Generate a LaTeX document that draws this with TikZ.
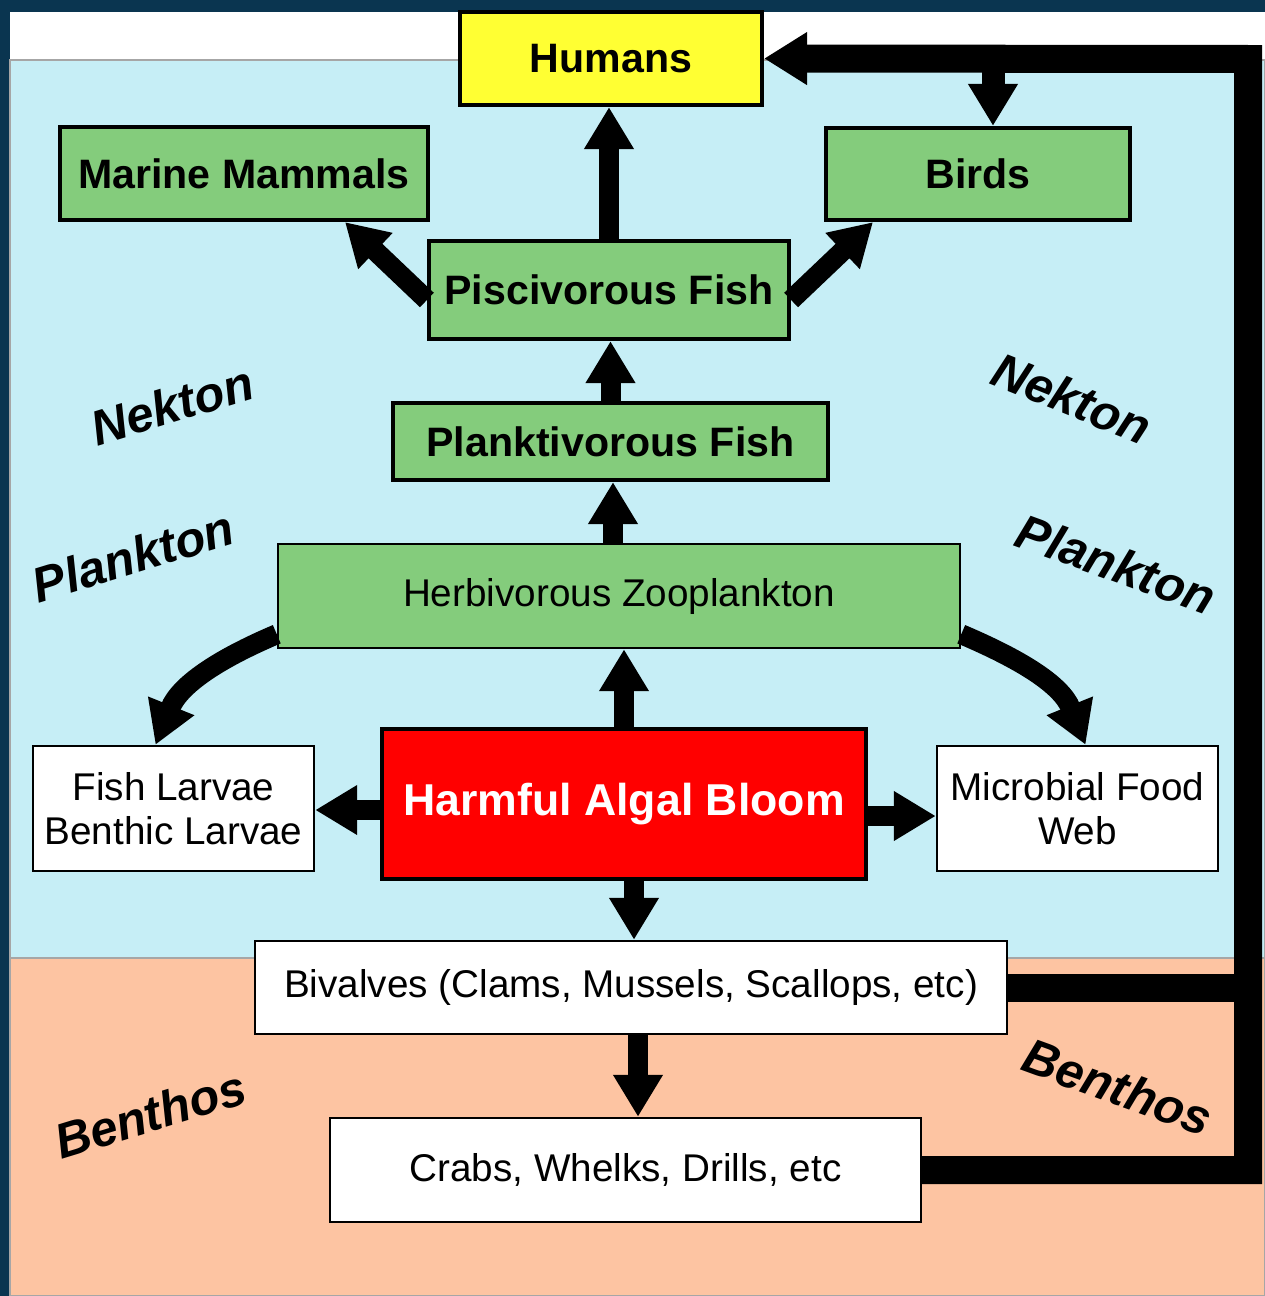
\documentclass[tikz,border=0pt]{standalone}
\usepackage{fontspec}
\setmainfont{Liberation Sans}
\usepackage{xcolor}
\usepackage{tikz}
\usetikzlibrary{positioning, calc, arrows.meta}

\definecolor{navy}{HTML}{0A3550}
\definecolor{seawater}{HTML}{C6EEF6}
\definecolor{seabed}{HTML}{FDC4A2}
\definecolor{boxgreen}{HTML}{84CC7C}
\definecolor{humanyellow}{HTML}{FFFF33}

\begin{document}
\begin{tikzpicture}[
    box/.style={draw, line width=1.2pt, align=center, inner sep=2pt,
                font=\fontsize{11.7}{14}\selectfont\bfseries},
    greenbox/.style={box, fill=boxgreen},
    plainbox/.style={draw, line width=0.7pt, fill=white, align=center,
                     inner sep=2pt, font=\fontsize{11}{12.6}\selectfont},
    arw/.style={line width=0.2cm, -{Triangle[width=0.47cm, length=0.42cm]}},
    loopline/.style={line width=0.28cm},
    zone/.style={font=\fontsize{14}{16}\selectfont\bfseries\itshape},
]
\useasboundingbox (0, 0) rectangle (12.65, -12.96);

% --- Background ---
\fill[navy] (0, 0) rectangle (12.65, -12.96);
\fill[white] (0.10, -0.12) rectangle (12.65, -0.60);
\filldraw[fill=seawater, draw=gray!70, line width=0.4pt]
    (0.10, -0.60) rectangle (12.65, -9.58);
\filldraw[fill=seabed, draw=gray!70, line width=0.4pt]
    (0.10, -9.58) rectangle (12.65, -12.96);

% --- Zone labels ---
\node[zone, rotate=17] (nekL) at (1.72, -4.05) {Nekton};
\node[zone, rotate=17] (plaL) at (1.33, -5.56) {Plankton};
\node[zone, rotate=17] (benL) at (1.50, -11.14) {Benthos};
\node[zone, rotate=-22] (nekR) at (10.72, -3.98) {Nekton};
\node[zone, rotate=-20] (plaR) at (11.16, -5.64) {Plankton};
\node[zone, rotate=-20] (benR) at (11.18, -10.87) {Benthos};

% --- Food web boxes ---
\node[box, fill=humanyellow, minimum width=3.02cm, minimum height=0.93cm]
    (humans) at (6.11, -0.585) {Humans};
\node[greenbox, minimum width=3.68cm, minimum height=0.93cm]
    (mammals) at (2.44, -1.735) {Marine Mammals};
\node[greenbox, minimum width=3.04cm, minimum height=0.92cm]
    (birds) at (9.78, -1.74) {Birds};
\node[greenbox, minimum width=3.60cm, minimum height=0.98cm]
    (pisc) at (6.09, -2.90) {Piscivorous Fish};
\node[greenbox, minimum width=4.35cm, minimum height=0.77cm]
    (plank) at (6.105, -4.415) {Planktivorous Fish};
\node[plainbox, fill=boxgreen, minimum width=6.82cm, minimum height=1.04cm]
    (herb) at (6.19, -5.96) {Herbivorous Zooplankton};
\node[plainbox, minimum width=2.81cm, minimum height=1.25cm]
    (larvae) at (1.735, -8.085) {Fish Larvae\\Benthic Larvae};
\node[box, fill=red, text=white, minimum width=4.84cm, minimum height=1.50cm,
      font=\fontsize{12.7}{15}\selectfont\bfseries]
    (hab) at (6.24, -8.04) {Harmful Algal Bloom};
\node[plainbox, minimum width=2.81cm, minimum height=1.25cm]
    (microbial) at (10.775, -8.085) {Microbial Food\\Web};
\node[plainbox, minimum width=7.52cm, minimum height=0.93cm]
    (bivalves) at (6.31, -9.875) {Bivalves (Clams, Mussels, Scallops, etc)};
\node[plainbox, minimum width=5.91cm, minimum height=1.04cm]
    (crabs) at (6.255, -11.70) {Crabs, Whelks, Drills, etc};

\coordinate (corner) at (12.48, -0.59);

% --- Upward flow ---
\draw[arw] (pisc.north) -- (pisc.north |- humans.south);
\draw[arw] ([yshift=-0.1cm]pisc.west) -- ([xshift=1.01cm]mammals.south);
\draw[arw] ([yshift=-0.1cm]pisc.east) -- ([xshift=-1.05cm]birds.south);
\draw[arw] (plank.north) -- (plank.north |- pisc.south);
\draw[arw] ([xshift=-0.06cm]herb.north) -- ([xshift=-0.06cm]herb.north |- plank.south);
\draw[arw] (hab.north) -- (hab.north |- herb.south);

% --- Side and downward flow ---
\draw[arw] ([yshift=0.15cm]herb.south west) to[out=203, in=68]
    ([xshift=-0.18cm]larvae.north);
\draw[arw] ([yshift=0.15cm]herb.south east) to[out=-23, in=112]
    ([xshift=0.08cm]microbial.north);
\draw[arw] ([yshift=-0.06cm]hab.west) -- ([yshift=-0.06cm]hab.west -| larvae.east);
\draw[arw] ([yshift=-0.12cm]hab.east) -- ([yshift=-0.12cm]hab.east -| microbial.west);
\draw[arw] ([xshift=0.1cm]hab.south) -- ([xshift=0.1cm]hab.south |- bivalves.north);
\draw[arw] ([xshift=0.07cm]bivalves.south) -- ([xshift=0.07cm]bivalves.south |- crabs.north);

% --- Return loop to humans and birds ---
\draw[loopline] (bivalves.east) -- (bivalves.east -| corner);
\draw[loopline, line join=miter, -{Triangle[width=0.5cm, length=0.43cm]}]
    (crabs.east) -| (corner) -- (humans.east);
\draw[arw, line width=0.23cm] ([xshift=0.15cm]birds.north |- corner)
    -- ([xshift=0.15cm]birds.north);
\end{tikzpicture}
\end{document}
